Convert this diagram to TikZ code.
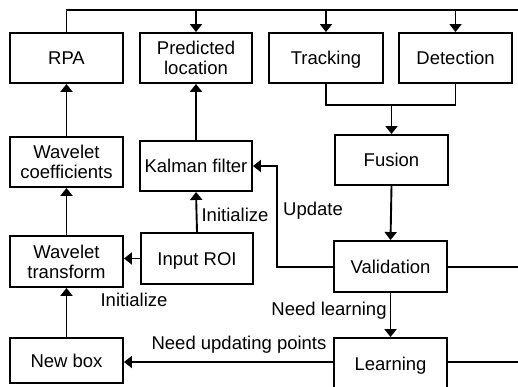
\documentclass[tikz,border=0pt]{standalone}
\usepackage{fontspec}
\setmainfont{Liberation Sans}
\usetikzlibrary{arrows.meta,calc}
\begin{document}
\begin{tikzpicture}[x=1pt,y=-1pt,
  every node/.style={font=\fontsize{18.5}{20}\selectfont, inner sep=0pt},
  blk/.style={draw, line width=1.9pt, minimum width=113pt, minimum height=50pt, align=center},
  oneline/.style={text height=13.3pt, text depth=0pt},
  lbl/.style={font=\fontsize{18.5}{20}\selectfont},
  link/.style={line width=1.9pt},
  arr/.style={line width=1.9pt, -{Triangle[length=8pt,width=12pt]}}]
\useasboundingbox (0,0) rectangle (518,387);
\begin{scope}
\clip (0,0) rectangle (518,387);
% blocks
\node[blk, oneline] (rpa) at (66.5,58) {RPA};
\node[blk, minimum width=112pt] (pred) at (196,58) {Predicted\\location};
\node[blk, oneline, minimum width=114pt] (track) at (326,58) {Tracking};
\node[blk, oneline] (detect) at (455.5,58) {Detection};
\node[blk, oneline] (fusion) at (391.5,160) {Fusion};
\node[blk] (wcoef) at (66.5,162) {Wavelet\\coefficients};
\node[blk, oneline, minimum width=112pt] (kalman) at (196,166) {Kalman filter};
\node[blk, oneline, minimum height=51pt] (valid) at (390.5,266.5) {Validation};
\node[blk, oneline, minimum height=52pt] (learn) at (390.5,364) {Learning};
\node[blk, minimum height=51pt] (wtrans) at (66.5,261.5) {Wavelet\\transform};
\node[blk, oneline, minimum width=112pt, minimum height=51pt] (roi) at (197,258.5) {Input ROI};
\node[blk, oneline, minimum height=45pt] (newbox) at (66.5,360.5) {New box};

% free ends and bends
\coordinate (topR) at (520,10);
\coordinate (topL) at (rpa.north |- topR);
\coordinate (merge) at (391.5,105);
\coordinate (upd) at (277,267);
\coordinate (validR) at (520,267);
\coordinate (learnR) at (520,362);

% top distribution line
\draw[link] (rpa.north) -- (topL) -- (topR);
\draw[arr] (pred.north |- topR) -- (pred.north);
\draw[arr] (track.north |- topR) -- (track.north);
\draw[arr] (detect.north |- topR) -- (detect.north);

% tracking and detection merge into fusion
\draw[link] (track.south) -- (track.south |- merge) -- (detect.south |- merge) -- (detect.south);
\draw[arr] (merge) -- (fusion.north);
\draw[arr] (fusion.south) -- (valid.north);

% validation outputs
\draw[arr] (valid.west |- upd) -- (upd) -- (upd |- kalman.east) -- (kalman.east);
\draw[link] (valid.east |- validR) -- (validR);
\draw[arr] (valid.south) -- (learn.north);
\draw[link] (learn.east |- learnR) -- (learnR);
\draw[arr] (learn.west |- learnR) -- (newbox.east |- learnR);

% left column
\draw[arr] (newbox.north) -- (wtrans.south);
\draw[arr] (wtrans.north) -- (wcoef.south);
\draw[arr] (wcoef.north) -- (rpa.south);
\draw[arr] (roi.west) -- (wtrans.east |- roi.west);
\draw[arr] (roi.north) -- (kalman.south);
\draw[arr] (kalman.north) -- (pred.south);
\end{scope}

% labels
\node[lbl] (lupdate) at (313,211) {Update};
\node[lbl] (linit1) at (235,215) {Initialize};
\node[lbl] (linit2) at (134,300) {Initialize};
\node[lbl] (lneedl) at (329,311) {Need learning};
\node[lbl] (lneedu) at (239,345) {Need updating points};
\end{tikzpicture}
\end{document}
